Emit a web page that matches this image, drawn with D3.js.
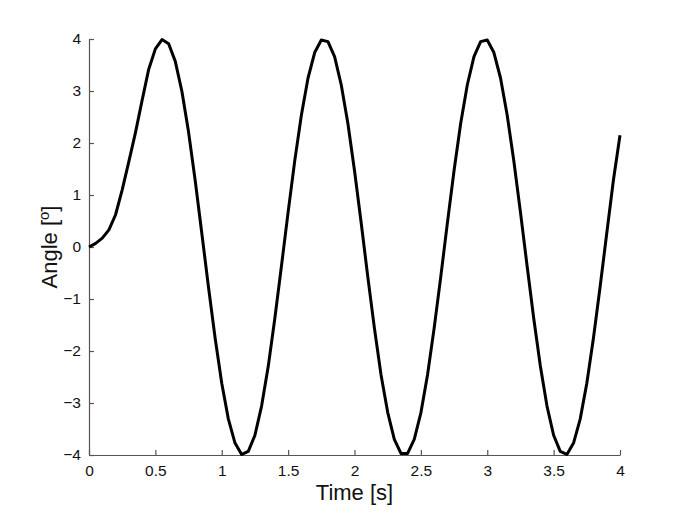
<!DOCTYPE html>
<html>
  <head>
    <meta charset="utf-8">
    <title>Angle vs Time</title>
    <script src="https://cdnjs.cloudflare.com/ajax/libs/d3/7.8.5/d3.min.js"></script>
    <style>
      body { margin: 0; background: #fff; }
      text { font-family: "Liberation Sans", Arial, sans-serif; }
    </style>
  </head>
  <body>

    <svg class="chart" width="685" height="513"></svg>

    <script>

      // time samples [s]
      var time = [0, 0.05, 0.1, 0.15, 0.2, 0.25, 0.3, 0.35, 0.4, 0.45,
        0.5, 0.55, 0.6, 0.65, 0.7, 0.75, 0.8, 0.85, 0.9, 0.95,
        1.0, 1.05, 1.1, 1.15, 1.2, 1.25, 1.3, 1.35, 1.4, 1.45,
        1.5, 1.55, 1.6, 1.65, 1.7, 1.75, 1.8, 1.85, 1.9, 1.95,
        2.0, 2.05, 2.1, 2.15, 2.2, 2.25, 2.3, 2.35, 2.4, 2.45,
        2.5, 2.55, 2.6, 2.65, 2.7, 2.75, 2.8, 2.85, 2.9, 2.95,
        3.0, 3.05, 3.1, 3.15, 3.2, 3.25, 3.3, 3.35, 3.4, 3.45,
        3.5, 3.55, 3.6, 3.65, 3.7, 3.75, 3.8, 3.85, 3.9, 3.95, 4.0];

      // angle [deg]
      var angle = [0, 0.07, 0.17, 0.33, 0.62, 1.1, 1.64, 2.2, 2.82, 3.42,
        3.81, 3.99, 3.91, 3.57, 2.99, 2.21, 1.28, 0.26, -0.77, -1.75,
        -2.62, -3.31, -3.77, -3.99, -3.93, -3.62, -3.06, -2.3, -1.37, -0.36,
        0.67, 1.66, 2.54, 3.25, 3.74, 3.98, 3.95, 3.66, 3.12, 2.38,
        1.47, 0.47, -0.57, -1.56, -2.46, -3.18, -3.7, -3.97, -3.97, -3.7,
        -3.19, -2.46, -1.56, -0.57, 0.47, 1.47, 2.38, 3.12, 3.66, 3.95,
        3.98, 3.74, 3.25, 2.54, 1.66, 0.67, -0.36, -1.37, -2.29, -3.06,
        -3.62, -3.93, -3.99, -3.77, -3.31, -2.62, -1.75, -0.77, 0.26, 1.28, 2.15];

      var xTicks = [0, 0.5, 1, 1.5, 2, 2.5, 3, 3.5, 4];
      var yTicks = [-4, -3, -2, -1, 0, 1, 2, 3, 4];

      var margin = { left: 89, right: 65, top: 39, bottom: 58 };
      var svg = d3.select("svg.chart");
      var width = +svg.attr("width") - margin.left - margin.right;
      var height = +svg.attr("height") - margin.top - margin.bottom;

      var x = d3.scaleLinear().domain([0, 4]).range([0, width]);
      var y = d3.scaleLinear().domain([-4, 4]).range([height, 0]);

      var g = svg.append("g")
        .attr("transform", "translate(" + margin.left + "," + margin.top + ")");

      var fmt = function(d) { return d < 0 ? "\u2212" + Math.abs(d) : String(d); };

      // x axis, ticks inward
      var xAxis = g.append("g")
        .attr("transform", "translate(0," + height + ")")
        .call(d3.axisBottom(x).tickValues(xTicks).tickFormat(fmt).tickSizeInner(-5).tickSizeOuter(0).tickPadding(10));

      // y axis, ticks inward
      var yAxis = g.append("g")
        .call(d3.axisLeft(y).tickValues(yTicks).tickFormat(fmt).tickSizeInner(-5).tickSizeOuter(0).tickPadding(8));

      [xAxis, yAxis].forEach(function(a) {
        a.select(".domain").attr("stroke", "#555").attr("stroke-width", 1.2);
        a.selectAll(".tick line").attr("stroke", "#555").attr("stroke-width", 1.2);
        a.selectAll(".tick text").attr("fill", "#111").style("font-size", "15.5px");
      });

      var pts = time.map(function(t, i) { return [t, angle[i]]; });

      g.append("path")
        .datum(pts)
        .attr("fill", "none")
        .attr("stroke", "#000")
        .attr("stroke-width", 3)
        .attr("stroke-linejoin", "round")
        .attr("d", d3.line()
          .x(function(d) { return x(d[0]); })
          .y(function(d) { return y(d[1]); }));

      // axis labels
      svg.append("text")
        .attr("x", margin.left + width / 2)
        .attr("y", 500)
        .attr("text-anchor", "middle")
        .style("font-size", "22px")
        .attr("fill", "#111")
        .text("Time [s]");

      var yl = svg.append("text")
        .attr("transform", "translate(57," + (margin.top + height / 2) + ") rotate(-90)")
        .attr("text-anchor", "middle")
        .style("font-size", "22px")
        .attr("fill", "#111");
      yl.append("tspan").text("Angle [");
      yl.append("tspan").attr("baseline-shift", "super").style("font-size", "15px").text("o");
      yl.append("tspan").text("]");

    </script>
  </body>
</html>
